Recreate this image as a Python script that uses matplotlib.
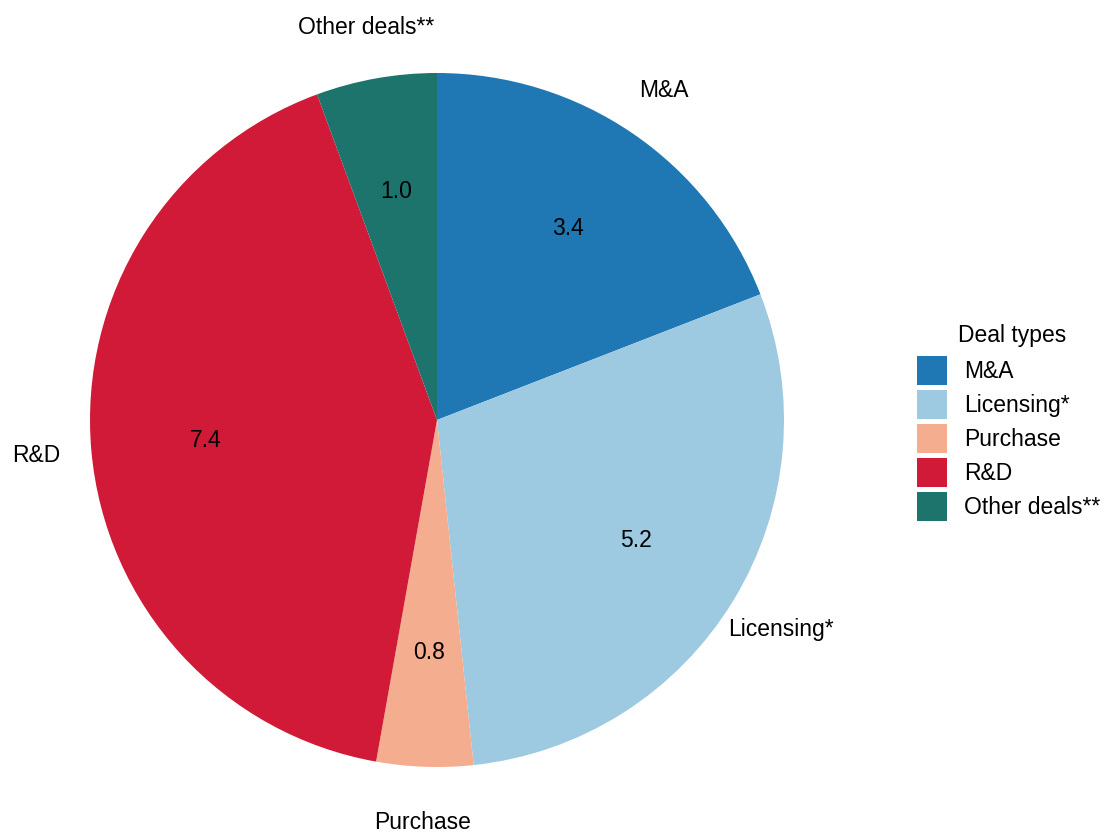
import numpy as np
import matplotlib.pyplot as plt
from matplotlib.patches import Patch

plt.rcParams['font.family'] = ['Liberation Sans', 'DejaVu Sans']

# Deal values by type
deal_types = ['M&A', 'Licensing*', 'Purchase', 'R&D', 'Other deals**']
values = [3.4, 5.2, 0.8, 7.4, 1.0]
colors = ['#1F78B4', '#9ECAE1', '#F4AD8E', '#D01A37', '#1C746C']

fig = plt.figure(figsize=(11.04, 8.34), dpi=100)
ax = fig.add_axes([90 / 1104, 67 / 834, 694 / 1104, 694 / 834])

wedges, _ = ax.pie(values, colors=colors, startangle=90, counterclock=False,
                   radius=1, wedgeprops=dict(linewidth=0))
ax.set_xlim(-1, 1)
ax.set_ylim(-1, 1)
ax.set_aspect('equal')
ax.axis('off')

# Value labels inside, category labels outside
total = sum(values)
cum = np.cumsum([0] + values)
for i, (name, v) in enumerate(zip(deal_types, values)):
    mid = (cum[i] + v / 2) / total * 2 * np.pi
    dx, dy = np.sin(mid), np.cos(mid)
    ax.text(0.67 * dx, 0.67 * dy, f'{v:.1f}', ha='center', va='center',
            fontsize=16.5)
    ax.text(1.16 * dx, 1.16 * dy - 0.01 * max(dy, 0), name,
            ha='center', va='center', fontsize=16.5, clip_on=False)

# Legend keys, with the title set a bit to the right of the keys
handles = [Patch(facecolor=c, edgecolor='none') for c in colors]
leg = fig.legend(handles, deal_types, loc='upper left',
                 bbox_to_anchor=(917 / 1104, 1 - 356 / 834), frameon=False,
                 borderpad=0, borderaxespad=0,
                 fontsize=16.5, handlelength=1.3,
                 handleheight=1.56, handletextpad=0.75, labelspacing=0.23)
fig.text(958 / 1104, 1 - 336 / 834, 'Deal types', ha='left', va='center',
         fontsize=16.5)

fig.savefig('out.png', dpi=100)
